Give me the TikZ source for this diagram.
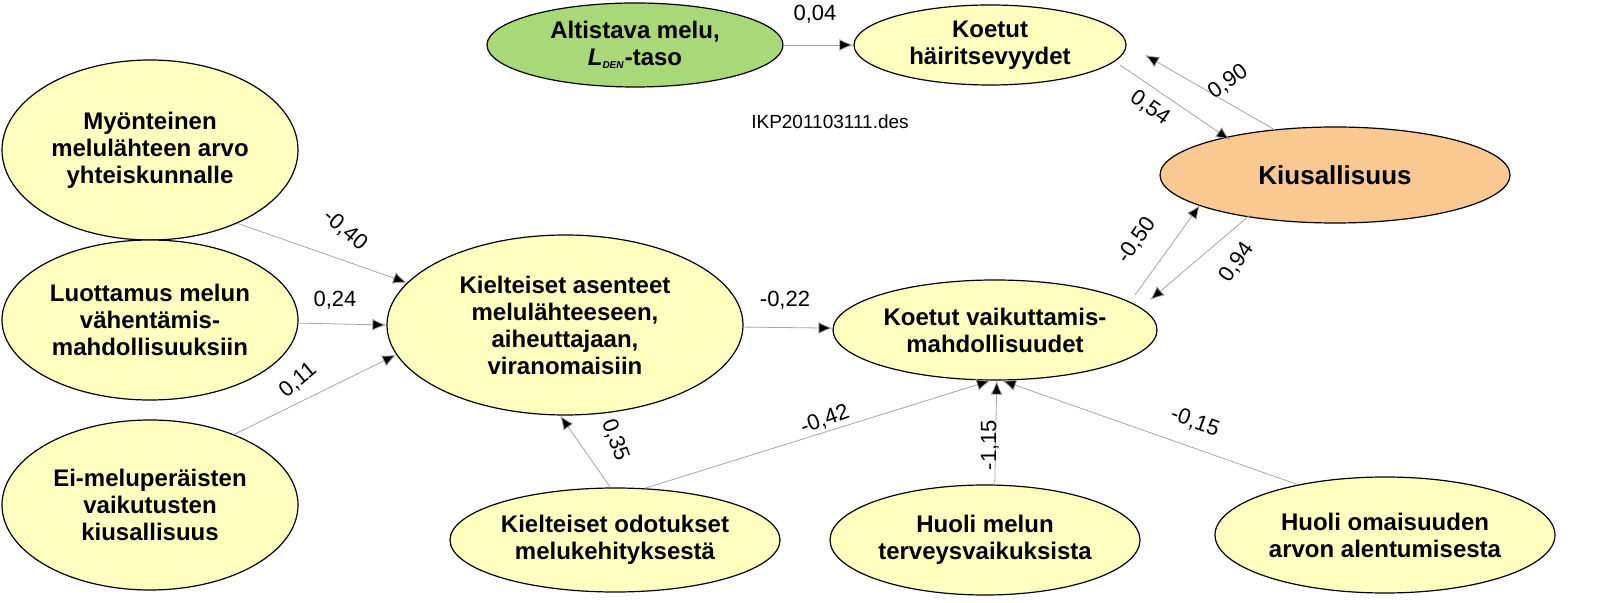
\documentclass[tikz,border=0pt]{standalone}
\usepackage{fontspec}
\setmainfont{Liberation Sans}
\usetikzlibrary{shapes.geometric,arrows.meta,calc}
\definecolor{ye}{RGB}{255,255,192}
\definecolor{gr}{RGB}{168,216,120}
\definecolor{or}{RGB}{250,200,145}
\begin{document}
\begin{tikzpicture}[x=0.5pt,y=-0.5pt,
 el/.style={ellipse,draw=black,line width=0.6pt,fill=ye,align=center,font=\bfseries\fontsize{12}{13.5}\selectfont,inner sep=-2pt},
 ar/.style={draw=gray!70,line width=0.4pt,-{Latex[length=7pt,width=6pt,fill=black]}},
 lb/.style={font=\fontsize{11}{12}\selectfont}]
\useasboundingbox (0,0) rectangle (1599,603);
\node[el,fill=gr,minimum width=148pt,minimum height=42pt] (alt) at (635,45) {Altistava melu,\\\textit{L}\textsubscript{\textit{\tiny DEN}}-taso};
\node[el,minimum width=136pt,minimum height=40pt] (hai) at (990,45) {Koetut\\häiritsevyydet};
\node[el,fill=or,minimum width=175pt,minimum height=48pt,font=\bfseries\fontsize{13}{15}\selectfont,inner sep=-8pt] (kiu) at (1335,175) {Kiusallisuus};
\node[el,minimum width=148pt,minimum height=90pt] (myo) at (150,150) {Myönteinen\\melulähteen arvo\\yhteiskunnalle};
\node[el,minimum width=148pt,minimum height=80pt] (luo) at (150,320) {Luottamus melun\\vähentämis-\\mahdollisuuksiin};
\node[el,minimum width=148pt,minimum height=85pt] (ei) at (150,505) {Ei-meluperäisten\\vaikutusten\\kiusallisuus};
\node[el,minimum width=178pt,minimum height=90pt] (ase) at (565,325) {Kielteiset asenteet\\melulähteeseen,\\aiheuttajaan,\\viranomaisiin};
\node[el,minimum width=162pt,minimum height=50pt] (vai) at (995,330) {Koetut vaikuttamis-\\mahdollisuudet};
\node[el,minimum width=165pt,minimum height=52pt] (odo) at (615,540) {Kielteiset odotukset\\melukehityksestä};
\node[el,minimum width=155pt,minimum height=55pt] (hme) at (985,540) {Huoli melun\\terveysvaikuksista};
\node[el,minimum width=170pt,minimum height=58pt] (hom) at (1385,535) {Huoli omaisuuden\\arvon alentumisesta};
\node[font=\fontsize{9.5}{11}\selectfont] (ikp) at (830,122) {IKP201103111.des};
\coordinate (h1) at ($(hai.center)+(130,20)$);
\coordinate (k1) at ($(kiu.center)+(-105,-35)$);
\coordinate (k2) at ($(kiu.center)+(-60,-45)$);
\coordinate (h2) at ($(hai.center)+(155,10)$);
\coordinate (v1) at ($(vai.center)+(140,-35)$);
\coordinate (k3) at ($(kiu.center)+(-135,30)$);
\coordinate (k4) at ($(kiu.center)+(-85,40)$);
\coordinate (v2) at ($(vai.center)+(155,-30)$);
\draw[ar] (alt) -- (hai);
\node[lb] at (815,14) {0,04};
\draw[ar] (h1) -- (k1);
\node[lb,rotate=-35] at (1150,108) {0,54};
\draw[ar] (k2) -- (h2);
\node[lb,rotate=35] at (1228,82) {0,90};
\draw[ar] (v1) -- (k3);
\node[lb,rotate=55] at (1137,240) {-0,50};
\draw[ar] (k4) -- (v2);
\node[lb,rotate=55] at (1237,262) {0,94};
\draw[ar] (myo.-40) -- (ase.165);
\node[lb,rotate=-40] at (345,230) {-0,40};
\draw[ar] (luo) -- (ase.180);
\node[lb] at (335,300) {0,24};
\draw[ar] (ei.40) -- (ase.190);
\node[lb,rotate=40] at (298,380) {0,11};
\draw[ar] (ase) -- (vai);
\node[lb] at (785,300) {-0,22};
\draw[ar] (odo.95) -- (ase.-93);
\node[lb,rotate=-70] at (615,440) {0,35};
\draw[ar] (odo.60) -- (vai.-95);
\node[lb,rotate=20] at (825,420) {-0,42};
\draw[ar] (hme.80) -- (vai.-88);
\node[lb,rotate=90] at (990,445) {-1,15};
\draw[ar] (hom.150) -- (vai.-82);
\node[lb,rotate=-20] at (1195,422) {-0,15};
\end{tikzpicture}
\end{document}
